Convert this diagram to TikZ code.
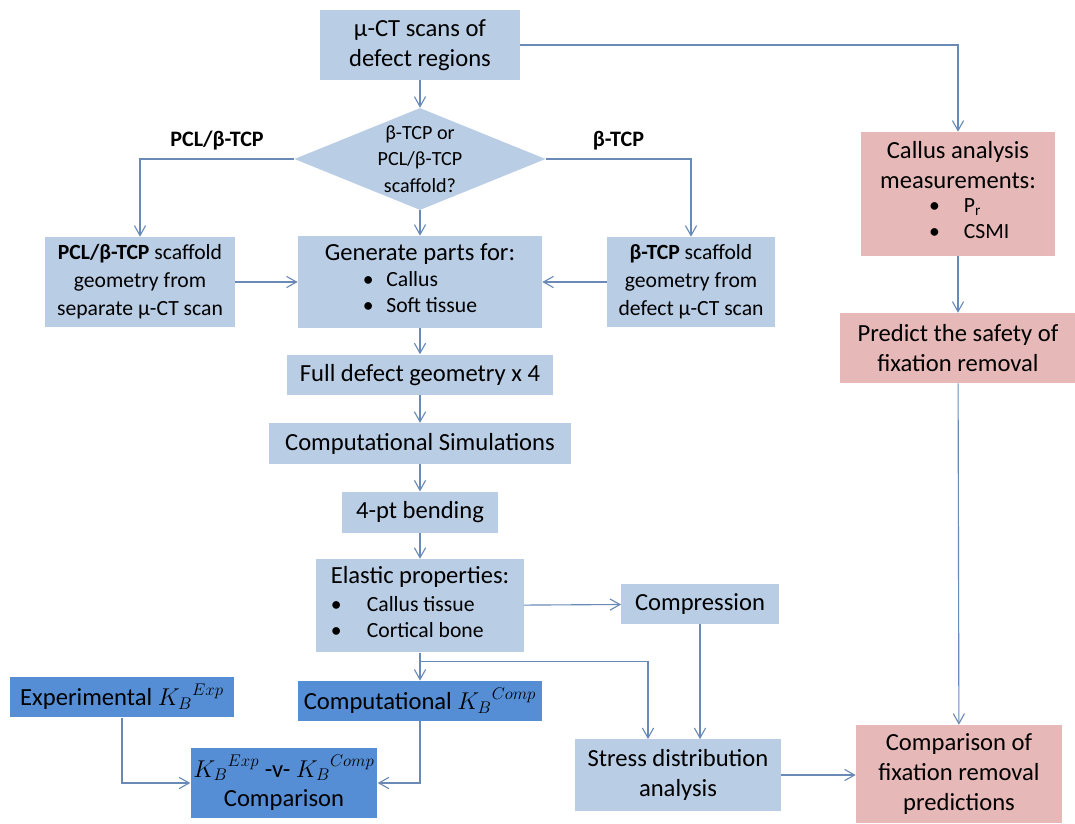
\documentclass[tikz,border=0pt]{standalone}
\usepackage{amsmath}
\usepackage{fontspec}
\setmainfont{Carlito}
\usepackage{tikz}
\usetikzlibrary{shapes.geometric, arrows.meta, positioning}
\definecolor{blockcolor}{RGB}{185, 205, 229}
\definecolor{keycolor}{RGB}{85, 142, 213}
\definecolor{outcomecolor}{RGB}{230, 185, 184}
\definecolor{arrowcolor}{RGB}{105, 138, 182}
\newcommand{\bigtext}{\fontsize{17.5}{21}\selectfont}
\newcommand{\smalltext}{\fontsize{15.4}{18.5}\selectfont}
\tikzset{
    font=\bigtext,
    block/.style = {
        rectangle, minimum width=5cm, minimum height=1cm, inner sep=2pt,
        align=center, fill=blockcolor
    },
    keyblock/.style = {block, fill=keycolor},
    outcome/.style = {block, fill=outcomecolor},
    decision/.style = {
        diamond, aspect=2.46, minimum width=6.28cm, minimum height=2.55cm,
        inner sep=-6pt, align=center, fill=blockcolor,
        font=\fontsize{14.3}{19}\selectfont
    },
    arrow/.style = {-{Straight Barb[length=2.5mm,width=2.8mm]}, line width=0.8pt, draw=arrowcolor},
    branch/.style = {inner sep=0pt, font=\fontsize{15.7}{19}\selectfont\bfseries}
}

\begin{document}
\begin{tikzpicture}[x=0.025cm, y=-0.025cm]
\useasboundingbox (0,0) rectangle (1075,823);
% Nodes
\node[block, minimum height=1.75cm] (scans) at (420,45) {μ-CT scans of\\defect regions};
\node[decision] (choice) at (420,159) {β-TCP or\\PCL/β-TCP\\scaffold?};
\node[block, minimum width=4.75cm, minimum height=2.25cm, font=\fontsize{15.4}{20}\selectfont] (pcl) at (140,282)
  {\textbf{PCL/β-TCP} scaffold\\geometry from\\separate μ-CT scan};
\node[block, minimum width=6.1cm, minimum height=2.3cm] (parts) at (420,282) {Generate parts for:\\[-2pt]
{\smalltext\begin{tabular}[t]{@{}l@{\hspace{9pt}}l@{}}\textbullet & Callus\\ \textbullet & Soft tissue\end{tabular}}};
\node[block, minimum width=4.2cm, minimum height=2.25cm, font=\fontsize{15.4}{20}\selectfont] (btcp) at (691,282)
  {\textbf{β-TCP} scaffold\\geometry from\\defect μ-CT scan};
\node[block, minimum width=6.65cm, below=0.65cm of parts] (full) {Full defect geometry x 4};
\node[block, minimum width=7.55cm, minimum height=1.02cm, below=0.7cm of full] (sims) {Computational Simulations};
\node[block, minimum width=3.9cm, minimum height=1.02cm, below=0.68cm of sims] (bending) {4-pt bending};
\node[block, minimum width=5.18cm, minimum height=2.33cm, align=left, below=0.65cm of bending] (elastic) {Elastic properties:\\[-1pt]
{\smalltext\begin{tabular}[t]{@{}l@{\hspace{18pt}}l@{}}\textbullet & Callus tissue\\ \textbullet & Cortical bone\end{tabular}}};
\node[block, minimum width=3.93cm] (compression) at (700,604) {Compression};
\node[keyblock, minimum width=6.08cm, below=0.7cm of elastic] (compK) {Computational ${K_B}^{Comp}$};
\node[keyblock, minimum width=5.62cm, minimum height=1.02cm] (expK) at (122,697) {Experimental ${K_B}^{Exp}$};
\node[keyblock, minimum width=4.6cm, minimum height=1.75cm] (versus) at (284,783) {${K_B}^{Exp}$ -v- ${K_B}^{Comp}$\\Comparison};
\node[block, minimum width=5.15cm, minimum height=1.78cm] (stress) at (678,775) {Stress distribution\\analysis};
\node[outcome, minimum width=4.83cm, minimum height=3.1cm] (callus) at (958,194) {Callus analysis\\measurements:\\[-4pt]
\hspace*{16pt}{\smalltext\begin{tabular}[t]{@{}l@{\hspace{17pt}}l@{}}\textbullet & P\textsubscript{r}\\ \textbullet & CSMI\end{tabular}}};
\node[outcome, minimum width=5.88cm, minimum height=1.75cm] (safety) at (958,348) {Predict the safety of\\fixation removal};
\node[outcome, minimum width=5.15cm, minimum height=2.45cm] (removal) at (959,774) {Comparison of\\fixation removal\\predictions};
% Arrows
\draw[arrow] (scans) -- (choice);
\draw[arrow] (scans.east) -| (callus.north);
\draw[arrow] (choice.west) -| node[pos=0.25, above=6pt, branch] {PCL/β-TCP} (pcl.north);
\draw[arrow] (choice.east) -| node[pos=0.25, above=6pt, branch] {β-TCP} (btcp.north);
\draw[arrow] (choice) -- (parts);
\draw[arrow] (pcl) -- (parts);
\draw[arrow] (btcp) -- (parts);
\draw[arrow] (parts) -- (full);
\draw[arrow] (full) -- (sims);
\draw[arrow] (sims) -- (bending);
\draw[arrow] (bending) -- (elastic);
\draw[arrow] (elastic) -- (compression);
\draw[arrow] (elastic) -- (compK);
% Branch to stress analysis
\coordinate (split) at ([yshift=-0.225cm]elastic.south);
\draw[arrow] (split) -| ([xshift=-0.75cm]stress.north);
\draw[arrow] (compression.south) -- (compression.south |- stress.north);
\draw[arrow] (expK.south) |- (versus.west);
\draw[arrow] (compK.south) |- (versus.east);
\draw[arrow] (stress.east) -- (stress.east -| removal.west);
\draw[arrow] (callus) -- (safety);
\draw[arrow] (safety) -- (removal);
\end{tikzpicture}
\end{document}
